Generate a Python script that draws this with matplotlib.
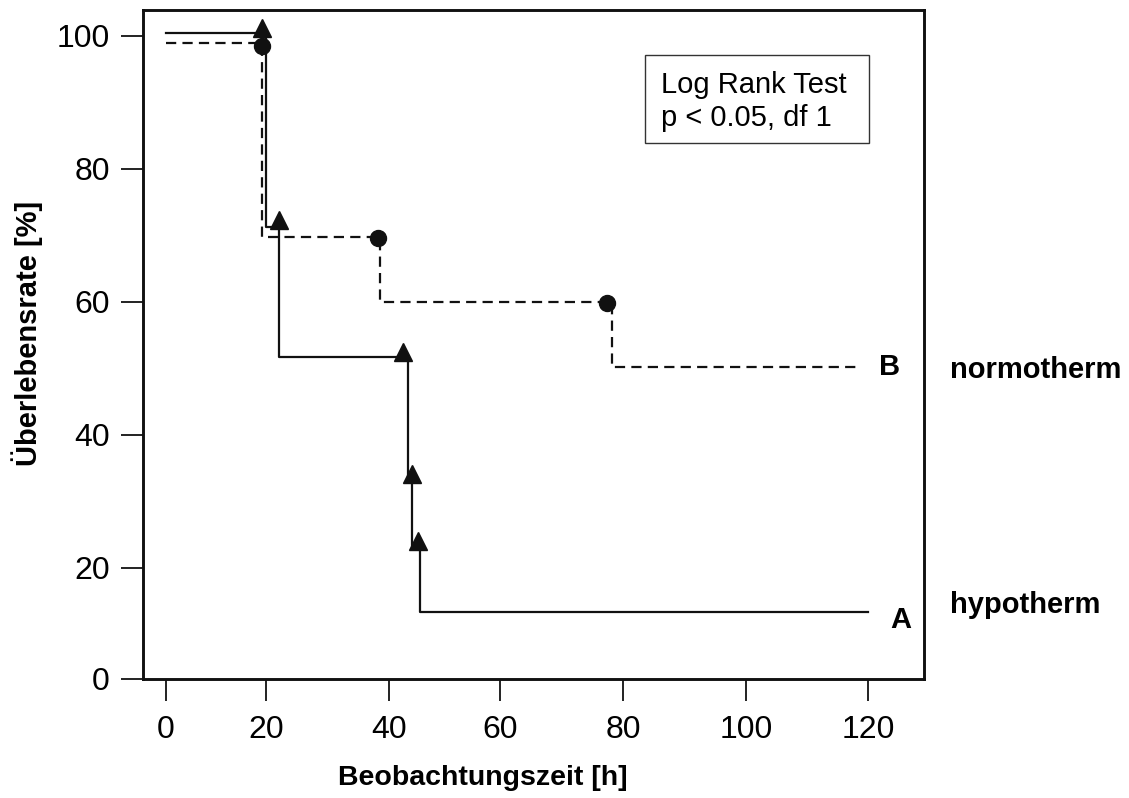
import matplotlib
matplotlib.use("Agg")
import numpy as np
from matplotlib import pyplot as plt
from matplotlib.patches import Rectangle

plt.rcParams["font.family"] = ["Liberation Sans", "DejaVu Sans"]

# hypotherm group (A): step curve and triangle markers
hypo_t = [0, 20.0, 22.1, 43.4, 44.1, 45.6, 120]
hypo_s = [100.5, 71.3, 51.7, 33.5, 23.2, 12.1, 12.1]
hypo_mark_t = [19.2, 22.1, 42.5, 44.1, 45.2]
hypo_mark_s = [101.2, 72.3, 52.5, 34.1, 24.1]

# normotherm group (B): step curve and circle markers
normo_t = [0, 19.2, 38.5, 78.2, 118.5]
normo_s = [98.9, 69.8, 60.0, 50.2, 50.2]
normo_mark_t = [19.2, 38.2, 77.4]
normo_mark_s = [98.5, 69.6, 59.8]

x_ticks = [0, 20, 40, 60, 80, 100, 120]
y_ticks = [0, 20, 40, 60, 80, 100]

# the original axes were drawn by hand: tick spacing is uneven, so the
# scale is warped piecewise-linearly through the drawn tick positions
x_tick_px = [166, 266, 389, 500, 623, 746, 868]
y_tick_px = [679, 568, 435, 302, 169, 36]


def warp(vals, px):
    vals = np.asarray(vals, float)
    px = np.asarray(px, float)
    s0 = (px[1] - px[0]) / (vals[1] - vals[0])
    s1 = (px[-1] - px[-2]) / (vals[-1] - vals[-2])
    v = np.r_[vals[0] - 1000, vals, vals[-1] + 1000]
    p = np.r_[px[0] - 1000 * s0, px, px[-1] + 1000 * s1]
    if p[0] > p[-1]:
        p = -p

    def fwd(x):
        return np.interp(x, v, p)

    def inv(y):
        return np.interp(y, p, v)

    return fwd, inv


xf, xi = warp(x_ticks, x_tick_px)
yf, yi = warp(y_ticks, y_tick_px)

fig = plt.figure(figsize=(11.29, 7.98), dpi=100)
ax = fig.add_axes([143 / 1129, 1 - 679 / 798, (924 - 143) / 1129, (679 - 10) / 798])
ax.set_xscale("function", functions=(xf, xi))
ax.set_yscale("function", functions=(yf, yi))

ax.step(hypo_t, hypo_s, where="post", color="#111111", lw=1.6)
ax.plot(hypo_mark_t, hypo_mark_s, "^", color="#111111", ms=13, ls="none")

ax.step(normo_t, normo_s, where="post", color="#111111", lw=1.6, ls=(0, (4.6, 2.8)))
ax.plot(normo_mark_t, normo_mark_s, "o", color="#111111", ms=11.5, ls="none")

ax.set_xlim(float(xi(143)), float(xi(924)))
ax.set_ylim(float(yi(-679)), float(yi(-10)))
ax.set_xticks(x_ticks)
ax.set_xticklabels([str(v) for v in x_ticks])
ax.set_yticks(y_ticks)
ax.set_yticklabels([str(v) for v in y_ticks])
ax.minorticks_off()

for sp in ax.spines.values():
    sp.set_linewidth(2.1)
    sp.set_color("#111111")
ax.tick_params(axis="both", length=16, width=1.4, color="#222222", labelsize=23)
ax.tick_params(axis="y", pad=8)
ax.tick_params(axis="x", pad=10)

ax.set_xlabel("Beobachtungszeit [h]", fontsize=20.5, fontweight="bold")
ax.xaxis.set_label_coords(0.4347, -0.1285)
ax.set_ylabel("Überlebensrate [%]", fontsize=21, fontweight="bold")
ax.yaxis.set_label_coords(-0.128, 0.517)

ax.add_patch(Rectangle((0.6428, 0.8012), 0.9296 - 0.6428, 0.9327 - 0.8012,
                       transform=ax.transAxes, fill=False, ec="#333333", lw=1.0))
ax.text(0.6633, 0.9085, "Log Rank Test\np < 0.05, df 1", transform=ax.transAxes,
        fontsize=21, va="top", ha="left", linespacing=1.2)

ax.text(123.6, 49.0, "B", fontsize=21, fontweight="bold", ha="center", va="baseline")
ax.text(125.3, 9.2, "A", fontsize=21, fontweight="bold", ha="center", va="baseline")
ax.text(133.4, 48.6, "normotherm", fontsize=21, fontweight="bold", ha="left", va="baseline",
        clip_on=False)
ax.text(133.4, 11.9, "hypotherm", fontsize=21, fontweight="bold", ha="left", va="baseline",
        clip_on=False)

fig.savefig("out.png", dpi=100, facecolor="white")
